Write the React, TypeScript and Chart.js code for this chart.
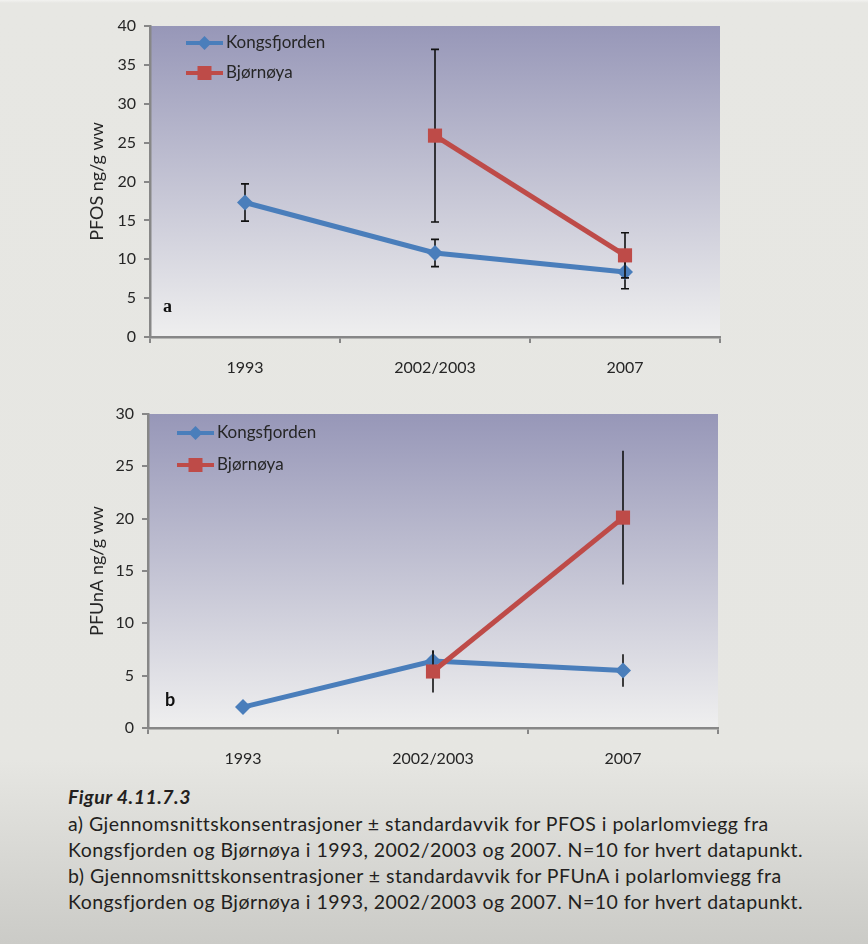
import React, { useEffect, useRef } from 'react';
import { Chart, registerables } from 'chart.js';
Chart.register(...registerables);

// ---------- data ----------
const categories = ['1993', '2002/2003', '2007'];
const seriesNames = ['Kongsfjorden', 'Bjørnøya'];

const pfosKongsfjorden = [17.3, 10.8, 8.35];
const pfosKongsfjordenSd = [2.4, 1.75, 2.15];
const pfosBjornoya = [null, 25.9, 10.5];
const pfosBjornoyaSd = [null, 11.1, 2.9];

const pfunaKongsfjorden = [2.0, 6.4, 5.5];
const pfunaKongsfjordenSd = [0.3, 1.0, 1.55];
const pfunaBjornoya = [null, 5.4, 20.1];
const pfunaBjornoyaSd = [null, 2.0, 6.4];

const pfosAxisMax = 40;
const pfunaAxisMax = 30;
const axisStep = 5;

const pfosTitle = 'PFOS ng/g ww';
const pfunaTitle = 'PFUnA ng/g ww';

const captionTitle = 'Figur 4.11.7.3';
const captionLines = [
  'a) Gjennomsnittskonsentrasjoner ± standardavvik for PFOS i polarlomviegg fra',
  'Kongsfjorden og Bjørnøya i 1993, 2002/2003 og 2007. N=10 for hvert datapunkt.',
  'b) Gjennomsnittskonsentrasjoner ± standardavvik for PFUnA i polarlomviegg fra',
  'Kongsfjorden og Bjørnøya i 1993, 2002/2003 og 2007. N=10 for hvert datapunkt.',
];

// ---------- styles ----------
const BLUE = '#4a7ebb';
const RED = '#be4b48';
const AXIS = '#878787';
const TEXT = '#262626';
const FONT = 'Lato, "Open Sans", sans-serif';

const plotBg = {
  id: 'plotBg',
  beforeDraw(chart: any) {
    const { ctx, chartArea: a } = chart;
    const g = ctx.createLinearGradient(0, a.top, 0, a.bottom);
    g.addColorStop(0, '#9797b8');
    g.addColorStop(1, '#efefef');
    ctx.save();
    ctx.fillStyle = g;
    ctx.fillRect(a.left, a.top, a.right - a.left, a.bottom - a.top);
    ctx.restore();
  },
};

const errorBars = {
  id: 'errorBars',
  beforeDatasetDraw(chart: any, args: any, opts: any) {
    const ds = chart.data.datasets[args.index];
    const sd = ds.errors as (number | null)[];
    if (!sd) return;
    const ctx = chart.ctx;
    const ys = chart.scales.y;
    ctx.save();
    ctx.strokeStyle = '#111';
    ctx.lineWidth = 1.6;
    args.meta.data.forEach((pt: any, i: number) => {
      const v = ds.data[i];
      const e = sd[i];
      if (v == null || e == null) return;
      const y1 = ys.getPixelForValue(v + e);
      const y2 = ys.getPixelForValue(v - e);
      ctx.beginPath();
      ctx.moveTo(pt.x, y1);
      ctx.lineTo(pt.x, y2);
      if (opts.cap) {
        ctx.moveTo(pt.x - opts.cap, y1);
        ctx.lineTo(pt.x + opts.cap, y1);
        ctx.moveTo(pt.x - opts.cap, y2);
        ctx.lineTo(pt.x + opts.cap, y2);
      }
      ctx.stroke();
    });
    ctx.restore();
  },
};

const insideLegend = {
  id: 'insideLegend',
  afterDraw(chart: any, _args: any, opts: any) {
    const { ctx, chartArea: a } = chart;
    ctx.save();
    chart.data.datasets.forEach((ds: any, i: number) => {
      const x0 = a.left + opts.x;
      const y = a.top + opts.y + i * opts.gap;
      const len = 37;
      ctx.strokeStyle = ds.borderColor;
      ctx.lineWidth = 4;
      ctx.beginPath();
      ctx.moveTo(x0, y);
      ctx.lineTo(x0 + len, y);
      ctx.stroke();
      const cx = x0 + len / 2;
      ctx.fillStyle = ds.borderColor;
      ctx.beginPath();
      if (ds.pointStyle === 'rectRot') {
        const r = 7;
        ctx.moveTo(cx - r, y);
        ctx.lineTo(cx, y - r);
        ctx.lineTo(cx + r, y);
        ctx.lineTo(cx, y + r);
        ctx.closePath();
      } else {
        ctx.rect(cx - 7, y - 7, 14, 14);
      }
      ctx.fill();
      ctx.fillStyle = TEXT;
      ctx.font = `17px ${FONT}`;
      ctx.textBaseline = 'middle';
      ctx.textAlign = 'left';
      ctx.fillText(ds.label, x0 + len + 3, y);
    });
    ctx.restore();
  },
};

const panelLabel = {
  id: 'panelLabel',
  afterDraw(chart: any, _args: any, opts: any) {
    const { ctx, chartArea: a } = chart;
    ctx.save();
    ctx.fillStyle = '#111';
    ctx.font = opts.font;
    ctx.textBaseline = 'middle';
    ctx.textAlign = 'left';
    ctx.fillText(opts.text, a.left + opts.dx, a.bottom - opts.dy);
    ctx.restore();
  },
};

function makeConfig(p: {
  kong: number[];
  kongSd: number[];
  bjorn: (number | null)[];
  bjornSd: (number | null)[];
  max: number;
  title: string;
  pad: any;
  yWidth: number;
  xHeight: number;
  cap: number;
  legend: any;
  label: any;
}): any {
  return {
    type: 'line',
    data: {
      labels: categories,
      datasets: [
        {
          label: seriesNames[0],
          data: p.kong,
          errors: p.kongSd,
          borderColor: BLUE,
          backgroundColor: BLUE,
          pointBackgroundColor: BLUE,
          pointBorderColor: BLUE,
          pointBorderWidth: 0,
          borderWidth: 5,
          pointStyle: 'rectRot',
          pointRadius: 8,
          order: 1,
        },
        {
          label: seriesNames[1],
          data: p.bjorn,
          errors: p.bjornSd,
          borderColor: RED,
          backgroundColor: RED,
          pointBackgroundColor: RED,
          pointBorderColor: RED,
          pointBorderWidth: 0,
          borderWidth: 5,
          pointStyle: 'rect',
          pointRadius: 10,
          order: 0,
        },
      ],
    },
    options: {
      responsive: false,
      animation: false,
      devicePixelRatio: 1,
      layout: { padding: p.pad },
      plugins: {
        legend: { display: false },
        tooltip: { enabled: false },
        errorBars: { cap: p.cap },
        insideLegend: p.legend,
        panelLabel: p.label,
      },
      scales: {
        x: {
          type: 'category',
          offset: true,
          grid: {
            display: true,
            drawOnChartArea: false,
            drawTicks: true,
            tickLength: 6,
            color: AXIS,
            lineWidth: 2,
            offset: true,
          },
          border: { display: true, color: AXIS, width: 2.5 },
          ticks: {
            color: TEXT,
            font: { family: FONT, size: 16 },
            padding: 15,
            maxRotation: 0,
          },
          afterFit(s: any) {
            s.height = p.xHeight;
          },
        },
        y: {
          min: 0,
          max: p.max,
          grid: {
            display: true,
            drawOnChartArea: false,
            drawTicks: true,
            tickLength: 6,
            color: AXIS,
            lineWidth: 2,
          },
          border: { display: true, color: AXIS, width: 2.5 },
          ticks: {
            stepSize: axisStep,
            color: TEXT,
            font: { family: FONT, size: 16 },
            padding: 8,
          },
          title: {
            display: true,
            text: p.title,
            color: TEXT,
            font: { family: FONT, size: 18 },
            padding: { top: 86, bottom: 0 },
          },
          afterFit(s: any) {
            s.width = p.yWidth;
          },
        },
      },
    },
    plugins: [plotBg, errorBars, insideLegend, panelLabel],
  };
}

function ChartCanvas({ config, top }: { config: any; top: number }) {
  const ref = useRef<HTMLCanvasElement | null>(null);
  useEffect(() => {
    if (!ref.current) return;
    const c = new Chart(ref.current, config);
    return () => c.destroy();
  }, [config]);
  return (
    <canvas
      ref={ref}
      width={868}
      height={390}
      style={{ position: 'absolute', left: 0, top, width: 868, height: 390, display: 'block' }}
    />
  );
}

const configA = makeConfig({
  kong: pfosKongsfjorden,
  kongSd: pfosKongsfjordenSd,
  bjorn: pfosBjornoya,
  bjornSd: pfosBjornoyaSd,
  max: pfosAxisMax,
  title: pfosTitle,
  pad: { left: 0, right: 148, top: 26, bottom: 0 },
  yWidth: 150,
  xHeight: 53,
  cap: 4,
  legend: { x: 36, y: 17, gap: 30 },
  label: { text: 'a', dx: 13, dy: 30, font: `bold 18px "Liberation Serif", serif` },
});

const configB = makeConfig({
  kong: pfunaKongsfjorden,
  kongSd: pfunaKongsfjordenSd,
  bjorn: pfunaBjornoya,
  bjornSd: pfunaBjornoyaSd,
  max: pfunaAxisMax,
  title: pfunaTitle,
  pad: { left: 0, right: 150, top: 24, bottom: 0 },
  yWidth: 148,
  xHeight: 52,
  cap: 0,
  legend: { x: 29, y: 19, gap: 32 },
  label: { text: 'b', dx: 17, dy: 28, font: `bold 18px ${FONT}` },
});

export default function App() {
  return (
    <div
      style={{
        position: 'absolute',
        left: 0,
        top: 0,
        width: 868,
        height: 944,
        overflow: 'hidden',
        background:
          'linear-gradient(to bottom, #f2f2f0 0px, #e7e7e3 3px, #e6e6e2 760px, #cbcbc7 944px)',
        fontFamily: FONT,
      }}
    >
      <ChartCanvas config={configA} top={0} />
      <ChartCanvas config={configB} top={390} />
      <div
        style={{
          position: 'absolute',
          left: 68,
          top: 783,
          color: '#231f20',
          fontSize: 19.5,
          letterSpacing: '0.45px',
        }}
      >
        <div style={{ fontWeight: 700, fontStyle: 'italic', lineHeight: '28px' }}>{captionTitle}</div>
        {captionLines.map((l, i) => (
          <div key={i} style={{ lineHeight: '26px', whiteSpace: 'nowrap' }}>
            {l}
          </div>
        ))}
      </div>
    </div>
  );
}
